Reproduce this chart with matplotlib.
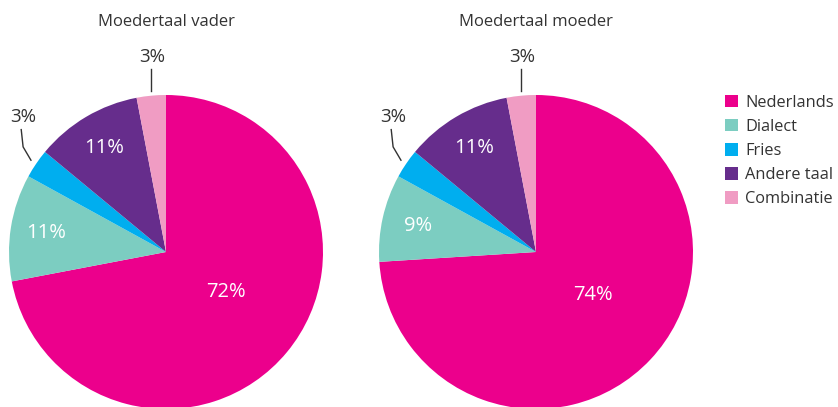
import matplotlib.pyplot as plt
import numpy as np

plt.rcParams['font.family'] = ['Open Sans', 'DejaVu Sans']

# data
categories = ["Nederlands", "Dialect", "Fries", "Andere taal", "Combinatie"]
vader = [72, 11, 3, 11, 3]
moeder = [74, 9, 3, 11, 3]
titles = ["Moedertaal vader", "Moedertaal moeder"]
colors = ["#EC008C", "#7CCDC1", "#00AEEF", "#662D8C", "#F09CC3"]
text_col = "#333333"

W, H = 838, 407
fig = plt.figure(figsize=(W / 100, H / 100), dpi=100)

# pie boxes in pixels: left, top, size
boxes = [(9, 95, 314), (379, 95, 314)]


def draw_pie(ax, vals, title):
    wedges, _ = ax.pie(vals, colors=colors, startangle=90, counterclock=False,
                       radius=1, wedgeprops=dict(linewidth=0))
    ax.set_xlim(-1, 1)
    ax.set_ylim(-1, 1)
    ax.set_aspect('equal')
    ax.axis('off')
    for w in wedges:
        w.set_clip_on(False)
    for i, (w, v) in enumerate(zip(wedges, vals)):
        mid = np.deg2rad((w.theta1 + w.theta2) / 2)
        u = np.array([np.cos(mid), np.sin(mid)])
        lbl = f"{v}%"
        if i == 0:
            p = 0.46 * u + np.array([0.03, 0.04])
            ax.text(p[0], p[1], lbl, color="white", fontsize=14.5,
                    ha='center', va='center')
        elif v > 5:
            p = 0.77 * u
            ax.text(p[0], p[1], lbl, color="white", fontsize=14.5,
                    ha='center', va='center')
        elif i == 2:
            p0 = 1.04 * u
            p1 = p0 + np.array([-0.05, 0.085])
            p2 = p1 + np.array([-0.012, 0.11])
            ax.plot([p0[0], p1[0], p2[0]], [p0[1], p1[1], p2[1]],
                    color=text_col, lw=1, clip_on=False)
            ax.text(p2[0] + 0.01, p2[1] + 0.02, lbl, color=text_col,
                    fontsize=13.5, ha='center', va='bottom')
        else:
            p0 = 1.03 * u
            p1 = np.array([p0[0], p0[1] + 0.14])
            ax.plot([p0[0], p1[0]], [p0[1], p1[1]], color=text_col, lw=1,
                    clip_on=False)
            ax.text(p1[0] + 0.01, p1[1] + 0.02, lbl, color=text_col,
                    fontsize=13.5, ha='center', va='bottom')
    ax.text(0, 1.465, title, color=text_col, fontsize=12, ha='center',
            va='center')
    return wedges


for (left, top, size), vals, title in zip(boxes, [vader, moeder], titles):
    ax = fig.add_axes([left / W, (H - top - size) / H, size / W, size / H])
    wedges = draw_pie(ax, vals, title)

fig.legend(wedges, categories, loc='upper left',
           bbox_to_anchor=(718 / W, 1 - 88 / H), frameon=False,
           fontsize=11.8, handlelength=0.8, handleheight=0.8,
           handletextpad=0.45, labelspacing=0.5, labelcolor=text_col,
           borderaxespad=0)

fig.savefig("out.png", dpi=100)
